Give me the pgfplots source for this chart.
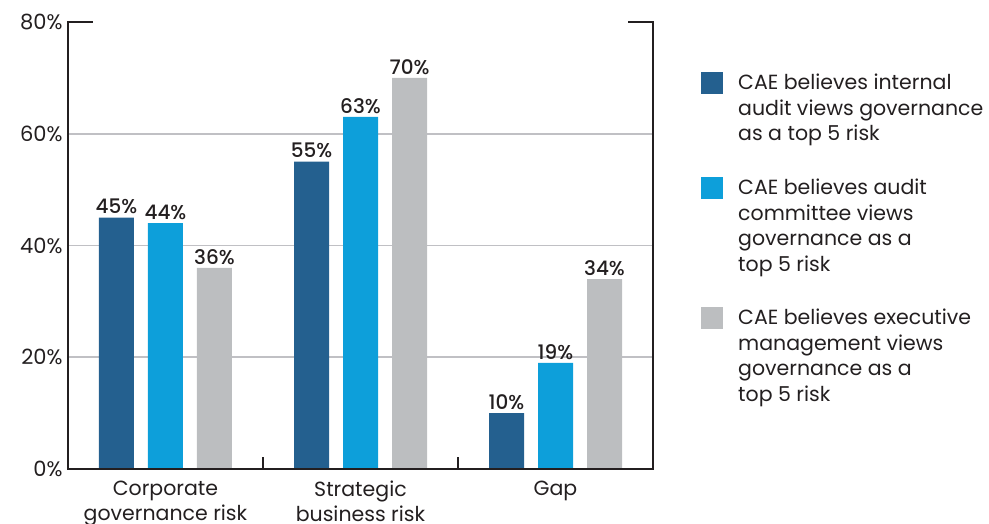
\documentclass[border=0pt]{standalone}
\usepackage{pgfplots}
\pgfplotsset{compat=1.18}
\usepackage{fontspec}
\setmainfont{Poppins}
\newfontfamily\semib{Poppins Medium}
\definecolor{cdark}{RGB}{36,96,143}
\definecolor{clight}{RGB}{13,159,218}
\definecolor{cgray}{RGB}{188,190,192}
\definecolor{cgrid}{RGB}{192,192,196}
\definecolor{caxis}{RGB}{35,31,32}
\definecolor{ctext}{RGB}{35,31,32}
\begin{document}
\begin{tikzpicture}[x=1pt,y=1pt]
\useasboundingbox (-68,-55) rectangle (921,469);
\begin{axis}[
  scale only axis, width=585pt, height=447pt,
  xmin=-0.5, xmax=2.5, ymin=0, ymax=80,
  axis line style={draw=none},
  xtick={0,1,2},
  xticklabels={Corporate\\governance risk, Strategic\\business risk, Gap},
  xticklabel style={align=center, font=\fontsize{20.5}{25}\selectfont, text=ctext, yshift=-4pt},
  x tick style={draw=none},
  ytick={0,20,40,60,80},
  yticklabel={\pgfmathprintnumber{\tick}\%},
  yticklabel style={font=\fontsize{21}{24}\selectfont, text=ctext, xshift=-2pt},
  y tick style={draw=none},
  /pgf/number format/assume math mode=true,
  ybar, bar width=35pt,
  nodes near coords={\pgfmathprintnumber{\pgfplotspointmeta}\%},
  every node near coord/.append style={font=\fontsize{20}{22}\selectfont\semib, text=ctext, yshift=0pt},
  clip=false,
]
\foreach \yy in {20,40,60} {
  \edef\tmp{\noexpand\draw[cgrid, line width=1.6pt] (axis cs:-0.5,\yy) -- (axis cs:2.5,\yy);}
  \tmp
}
\addplot[fill=cdark, draw=none, bar shift=-49pt] coordinates {(0,45) (1,55) (2,10)};
\addplot[fill=clight, draw=none, bar shift=0pt] coordinates {(0,44) (1,63) (2,19)};
\addplot[fill=cgray, draw=none, bar shift=49pt] coordinates {(0,36) (1,70) (2,34)};
\draw[caxis, line width=2.5pt, line cap=rect] (axis cs:-0.5,80) -- (axis cs:-0.5,0) -- (axis cs:2.5,0) -- (axis cs:2.5,80);
\draw[caxis, line width=2.5pt] (axis cs:-0.5,80) -- ++(25pt,0pt);
\draw[caxis, line width=2.5pt] (axis cs:2.5,80) -- ++(-25pt,0pt);
\draw[caxis, line width=2.5pt] (axis cs:0.5,0) -- ++(0pt,12pt);
\draw[caxis, line width=2.5pt] (axis cs:1.5,0) -- ++(0pt,12pt);
\end{axis}
\begin{scope}[every node/.style={anchor=base west, inner sep=0pt, font=\fontsize{20.5}{24}\selectfont, text=ctext}]
\fill[cdark] (633,375) rectangle (655,397);
\node at (670,379) {CAE believes internal};
\node at (670,353.5) {audit views governance};
\node at (670,328) {as a top 5 risk};
\fill[clight] (633,270) rectangle (655,292);
\node at (670,274) {CAE believes audit};
\node at (670,248.5) {committee views};
\node at (670,223) {governance as a};
\node at (670,197.5) {top 5 risk};
\fill[cgray] (633,140) rectangle (655,162);
\node at (670,144) {CAE believes executive};
\node at (670,118.5) {management views};
\node at (670,93) {governance as a};
\node at (670,67.5) {top 5 risk};
\end{scope}
\end{tikzpicture}
\end{document}
